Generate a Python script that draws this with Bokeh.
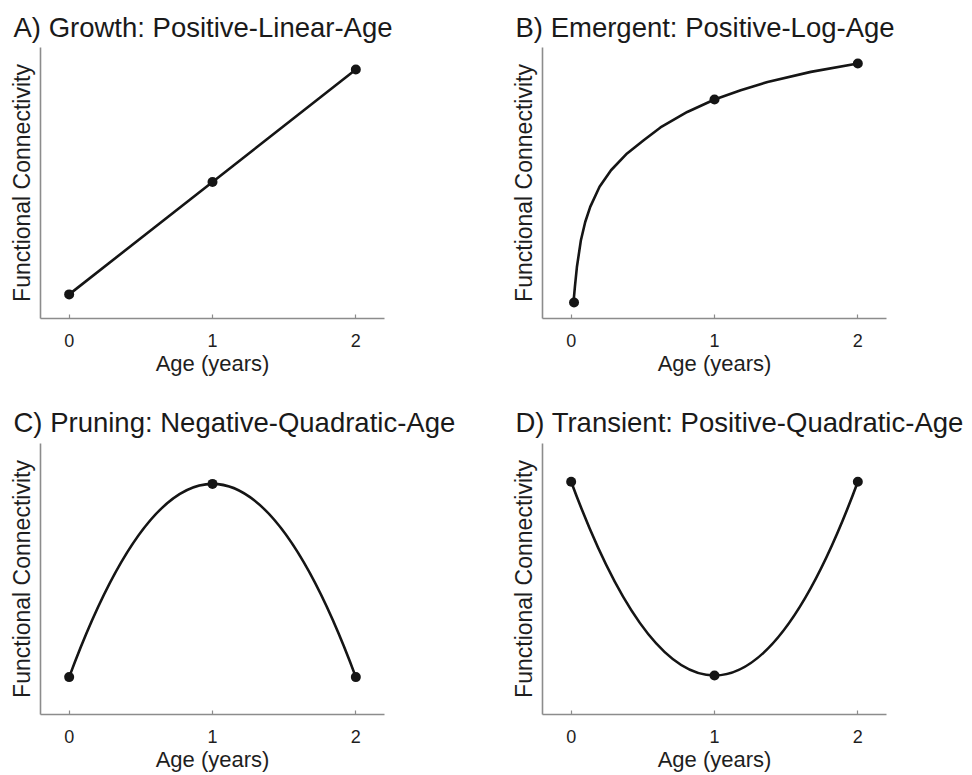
from bokeh.plotting import figure
from bokeh.layouts import column, row
from bokeh.models import FixedTicker, Range1d
from bokeh.embed import file_html
from bokeh.resources import INLINE

# ---------------- data ----------------
titles = [
    "A) Growth: Positive-Linear-Age",
    "B) Emergent: Positive-Log-Age",
    "C) Pruning: Negative-Quadratic-Age",
    "D) Transient: Positive-Quadratic-Age",
]
x_label = "Age (years)"
y_label = "Functional Connectivity"
x_ticks = [0, 1, 2]

a_age = [0, 1, 2]
a_fc = [0.089, 0.504, 0.919]

b_age = [0.02, 1, 2]
b_fc = [0.059, 0.808, 0.941]
b_curve_age = [0.016, 0.026, 0.040, 0.068, 0.098, 0.133, 0.198, 0.278, 0.390,
               0.506, 0.623, 0.810, 1.0, 1.183, 1.370, 1.672, 2.0]
b_curve_fc = [0.059, 0.117, 0.190, 0.289, 0.356, 0.412, 0.486, 0.547, 0.609,
              0.658, 0.705, 0.762, 0.808, 0.842, 0.873, 0.910, 0.941]

c_age = [0, 1, 2]
c_fc = [0.138, 0.851, 0.138]

d_age = [0, 1, 2]
d_fc = [0.859, 0.144, 0.859]

FONT = "Liberation Sans"
LINE = "#151515"
AXIS = "#8c8c8c"


def make_fig(title, width, height, left, right, top, bottom, title_standoff):
    p = figure(width=width, height=height, output_backend="svg", toolbar_location=None,
               x_range=Range1d(-0.2, 2.2), y_range=Range1d(0, 1),
               min_border_left=left, min_border_right=right,
               min_border_top=top, min_border_bottom=bottom,
               title=title)
    p.title.text_font = FONT
    p.title.text_font_size = "27.5px"
    p.title.text_font_style = "normal"
    p.title.text_color = "#1a1a1a"
    p.title.align = "left"
    p.title.offset = -27
    p.title.standoff = title_standoff
    p.outline_line_color = None
    p.grid.visible = False
    p.background_fill_color = "white"
    p.border_fill_color = "white"

    xa = p.xaxis[0]
    xa.ticker = FixedTicker(ticks=x_ticks)
    xa.minor_tick_line_color = None
    xa.major_tick_in = 4
    xa.major_tick_out = 0
    xa.major_tick_line_color = AXIS
    xa.major_tick_line_width = 1.2
    xa.axis_line_color = AXIS
    xa.axis_line_width = 1.6
    xa.major_label_text_font = FONT
    xa.major_label_text_font_size = "18px"
    xa.major_label_text_color = "#1e1e1e"
    xa.major_label_standoff = 15
    xa.axis_label = x_label
    xa.axis_label_text_font = FONT
    xa.axis_label_text_font_size = "22px"
    xa.axis_label_text_font_style = "normal"
    xa.axis_label_text_color = "#1e1e1e"
    xa.axis_label_standoff = 1

    ya = p.yaxis[0]
    ya.ticker = FixedTicker(ticks=[])
    ya.minor_tick_line_color = None
    ya.major_tick_in = 0
    ya.major_tick_out = 0
    ya.major_label_standoff = 0
    ya.axis_line_color = AXIS
    ya.axis_line_width = 1.6
    ya.axis_label = y_label
    ya.axis_label_text_font = FONT
    ya.axis_label_text_font_size = "23px"
    ya.axis_label_text_font_style = "normal"
    ya.axis_label_text_color = "#1e1e1e"
    ya.axis_label_standoff = 6
    return p


LW = 2.6
DOT = 10

pA = make_fig(titles[0], 502, 395, 40, 118, 47, 77, 9)
pA.line(a_age, a_fc, line_color=LINE, line_width=LW)
pA.scatter(a_age, a_fc, size=DOT, fill_color=LINE, line_color=None)

pB = make_fig(titles[1], 468, 395, 40, 84, 47, 77, 9)
pB.line(b_curve_age, b_curve_fc, line_color=LINE, line_width=LW, line_join="round")
pB.scatter(b_age, b_fc, size=DOT, fill_color=LINE, line_color=None)

pC = make_fig(titles[2], 502, 379, 40, 118, 48, 60, 12)
pC.quadratic(x0=[c_age[0]], y0=[c_fc[0]], x1=[c_age[2]], y1=[c_fc[2]],
             cx=[c_age[1]], cy=[2 * c_fc[1] - (c_fc[0] + c_fc[2]) / 2],
             line_color=LINE, line_width=LW)
pC.scatter(c_age, c_fc, size=DOT, fill_color=LINE, line_color=None)

pD = make_fig(titles[3], 468, 379, 40, 84, 48, 60, 12)
pD.quadratic(x0=[d_age[0]], y0=[d_fc[0]], x1=[d_age[2]], y1=[d_fc[2]],
             cx=[d_age[1]], cy=[2 * d_fc[1] - (d_fc[0] + d_fc[2]) / 2],
             line_color=LINE, line_width=LW)
pD.scatter(d_age, d_fc, size=DOT, fill_color=LINE, line_color=None)

layout = column(row(pA, pB), row(pC, pD))

open("out.html", "w").write(file_html(layout, INLINE))
